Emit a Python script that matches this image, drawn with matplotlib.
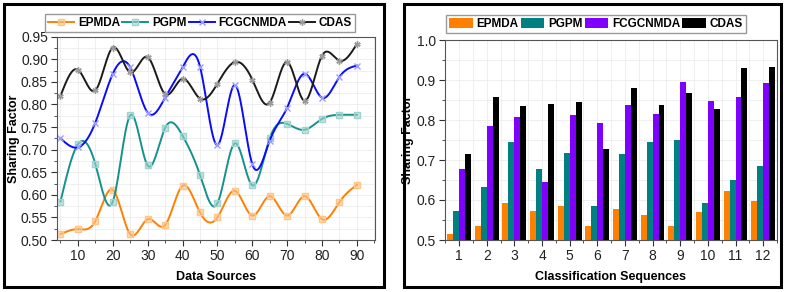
import numpy as np
import matplotlib
matplotlib.use('Agg')
import matplotlib.pyplot as plt
from matplotlib.patches import Rectangle
from matplotlib.ticker import MultipleLocator

plt.rcParams['font.family'] = ['Liberation Sans', 'DejaVu Sans']

# left panel: sharing factor vs number of data sources
sources = [5, 10, 15, 20, 25, 30, 35, 40, 45, 50, 55, 60, 65, 70, 75, 80, 85, 90]
epmda_line = [0.513, 0.524, 0.542, 0.611, 0.513, 0.546, 0.533, 0.620, 0.561, 0.550,
              0.609, 0.554, 0.597, 0.554, 0.597, 0.546, 0.584, 0.622]
pgpm_line = [0.585, 0.712, 0.668, 0.585, 0.776, 0.665, 0.748, 0.731, 0.644, 0.581,
             0.714, 0.621, 0.725, 0.757, 0.744, 0.768, 0.777, 0.777]
fcgcn_line = [0.725, 0.705, 0.760, 0.868, 0.882, 0.782, 0.815, 0.882, 0.884, 0.710,
              0.843, 0.668, 0.720, 0.793, 0.868, 0.815, 0.861, 0.886]
cdas_line = [0.819, 0.877, 0.831, 0.926, 0.871, 0.905, 0.823, 0.857, 0.813, 0.846,
             0.894, 0.855, 0.804, 0.894, 0.808, 0.908, 0.897, 0.934]

# right panel: sharing factor per classification sequence
sequences = list(range(1, 13))
epmda_bar = [0.516, 0.535, 0.593, 0.573, 0.586, 0.535, 0.578, 0.563, 0.536, 0.571, 0.622, 0.598]
pgpm_bar = [0.572, 0.632, 0.744, 0.678, 0.717, 0.586, 0.714, 0.745, 0.750, 0.592, 0.650, 0.686]
fcgcn_bar = [0.677, 0.785, 0.808, 0.646, 0.812, 0.792, 0.837, 0.814, 0.894, 0.848, 0.857, 0.893]
cdas_bar = [0.714, 0.858, 0.835, 0.840, 0.845, 0.728, 0.881, 0.838, 0.867, 0.828, 0.929, 0.932]

names = ['EPMDA', 'PGPM', 'FCGCNMDA', 'CDAS']


def natural_spline(x, y, k=30):
    x = np.asarray(x, float)
    y = np.asarray(y, float)
    n = len(x)
    h = np.diff(x)
    A = np.zeros((n, n))
    b = np.zeros(n)
    A[0, 0] = A[-1, -1] = 1
    for i in range(1, n - 1):
        A[i, i - 1] = h[i - 1]
        A[i, i] = 2 * (h[i - 1] + h[i])
        A[i, i + 1] = h[i]
        b[i] = 6 * ((y[i + 1] - y[i]) / h[i] - (y[i] - y[i - 1]) / h[i - 1])
    M = np.linalg.solve(A, b)
    xs, ys = [], []
    for i in range(n - 1):
        t = np.linspace(x[i], x[i + 1], k, endpoint=False)
        a = x[i + 1] - t
        c = t - x[i]
        s = (M[i] * a**3 + M[i + 1] * c**3) / (6 * h[i]) \
            + (y[i] / h[i] - M[i] * h[i] / 6) * a + (y[i + 1] / h[i] - M[i + 1] * h[i] / 6) * c
        xs.append(t)
        ys.append(s)
    xs.append([x[-1]])
    ys.append([y[-1]])
    return np.concatenate(xs), np.concatenate(ys), list(range(0, (n - 1) * k + 1, k))


fig = plt.figure(figsize=(7.88, 2.92), dpi=100)

# frames around the two panels
for x0, x1 in [(4, 384), (404, 781)]:
    fig.patches.append(Rectangle((x0 / 788, 1 - 287 / 292), (x1 - x0) / 788, 283 / 292,
                                 transform=fig.transFigure, fill=False, ec='black', lw=2.2))

ax1 = fig.add_axes([57 / 788, 1 - 240 / 292, (375 - 57) / 788, (240 - 36.7) / 292])
line_cols = ['#ff8000', '#16918c', '#0a0aff', '#1a1a1a']
mark_cols = ['#ffc48a', '#9fd3cf', '#9c9cff', '#9a9a9a']
markers = ['s', 's', 'x', (6, 2, 0)]
for vals, name, lc, mc, mk in zip([epmda_line, pgpm_line, fcgcn_line, cdas_line], names,
                                  line_cols, mark_cols, markers):
    xs, ys, idx = natural_spline(sources, vals)
    ax1.plot(xs, ys, color=lc, lw=1.4, marker=mk, markevery=idx, ms=4.5,
             mec=mc, mfc=mc + '99', mew=1.0, label=name)
ax1.set_xlim(4, 95.2)
ax1.set_ylim(0.50, 0.95)
ax1.xaxis.set_major_locator(MultipleLocator(10))
ax1.xaxis.set_minor_locator(MultipleLocator(5))
ax1.yaxis.set_major_locator(MultipleLocator(0.05))
ax1.yaxis.set_minor_locator(MultipleLocator(0.025))
ax1.set_yticklabels([f'{v:.2f}' for v in ax1.get_yticks()])
ax1.set_xlabel('Data Sources', fontsize=9, fontweight='bold', labelpad=6)
ax1.set_ylabel('Sharing Factor', fontsize=9, fontweight='bold')
ax1.yaxis.set_label_coords(-0.116, 0.5)
ax1.legend(loc='center', bbox_to_anchor=(200 / 788, 1 - 23 / 292), bbox_transform=fig.transFigure,
           ncol=4, prop={'weight': 'bold', 'size': 8.5}, handlelength=2.2, handletextpad=0.3,
           columnspacing=0.2, borderpad=0.25, fancybox=False, edgecolor='#999999', framealpha=1)

ax2 = fig.add_axes([444.7 / 788, 1 - 240 / 292, (777 - 444.7) / 788, 200 / 292])
bar_cols = ['#ff8000', '#008080', '#8000ff', '#000000']
w = 0.215
pos = np.arange(len(sequences)) + 1
for j, (vals, name, bc) in enumerate(zip([epmda_bar, pgpm_bar, fcgcn_bar, cdas_bar], names, bar_cols)):
    ax2.bar(pos + (j - 1.5) * w, np.array(vals) - 0.5, bottom=0.5, width=w, color=bc, label=name)
ax2.set_xlim(0.48, 12.5)
ax2.set_ylim(0.5, 1.0)
ax2.set_xticks(pos)
ax2.set_xticklabels([str(s) for s in sequences])
ax2.xaxis.set_minor_locator(MultipleLocator(0.5))
ax2.yaxis.set_major_locator(MultipleLocator(0.1))
ax2.yaxis.set_minor_locator(MultipleLocator(0.05))
ax2.set_xlabel('Classification Sequences', fontsize=9, fontweight='bold', labelpad=6)
ax2.set_ylabel('Sharing Factor', fontsize=9, fontweight='bold')
ax2.yaxis.set_label_coords(-0.092, 0.5)
ax2.legend(loc='center', bbox_to_anchor=(596 / 788, 1 - 24 / 292), bbox_transform=fig.transFigure,
           ncol=4, prop={'weight': 'bold', 'size': 8.5}, handlelength=2.0, handleheight=0.9,
           handletextpad=0.3, columnspacing=0.2, borderpad=0.25, fancybox=False,
           edgecolor='#999999', framealpha=1)

for ax in (ax1, ax2):
    ax.grid(True, which='both', color='#ececec', lw=0.6)
    ax.set_axisbelow(True)
    ax.tick_params(which='both', direction='out', labelsize=10, colors='#333333', labelcolor='#222222')
    ax.tick_params(which='major', length=4, pad=2.5)
    ax.tick_params(which='minor', length=2)
    for sp in ax.spines.values():
        sp.set_color('#555555')

fig.savefig('out.png', dpi=100)
